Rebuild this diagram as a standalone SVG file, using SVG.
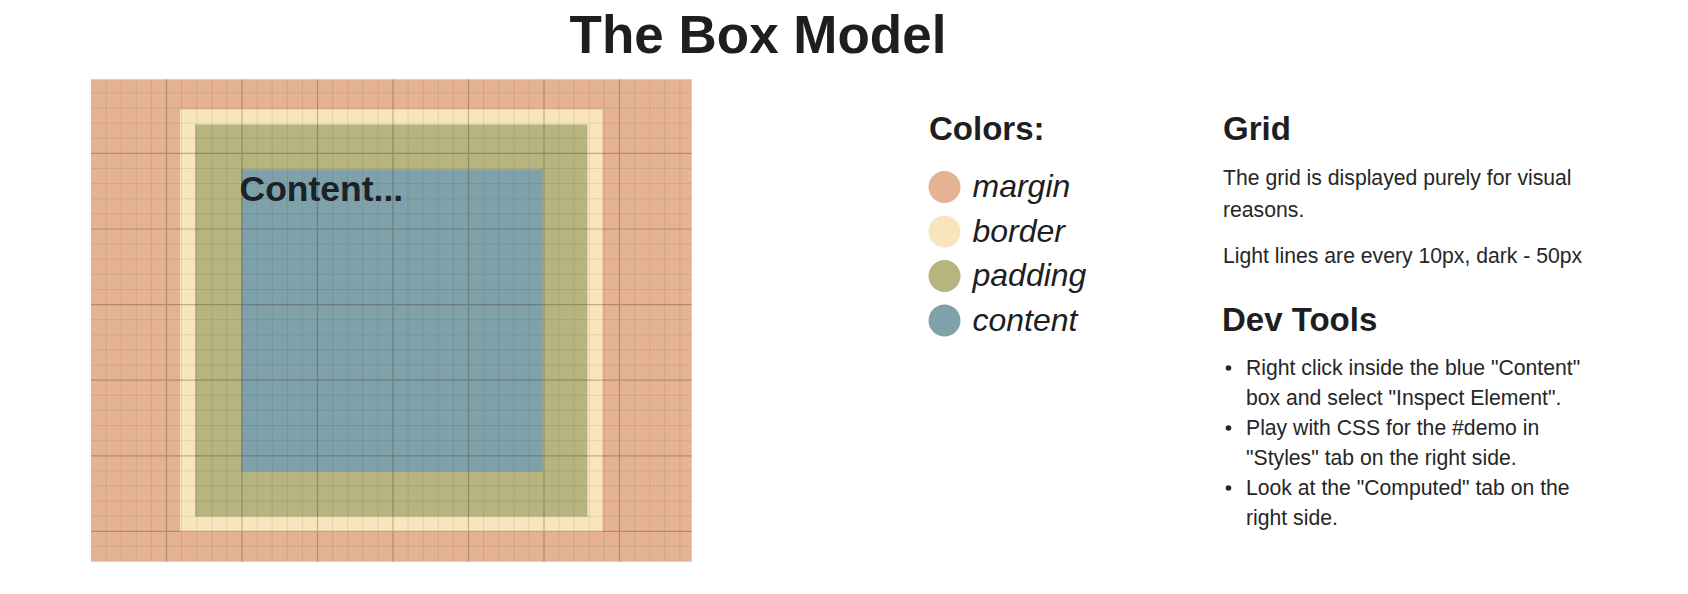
<svg xmlns="http://www.w3.org/2000/svg" width="1688" height="594" viewBox="0 0 1688 594">
  <style>
    text { font-family: "Liberation Sans", Arial, Helvetica, sans-serif; fill: #1e1e1e; }
    .title { font-size: 53px; font-weight: bold; }
    .h2 { font-size: 33px; font-weight: bold; }
    .leg { font-size: 32px; font-style: italic; }
    .body { font-size: 21.2px; fill: #262626; }
    .content-label { font-size: 35.5px; font-weight: bold; fill: #1c2228; }
    .grid-light { stroke: #000; stroke-opacity: 0.08; stroke-width: 1; fill: none; }
    .grid-dark { stroke: #3a2010; stroke-opacity: 0.28; stroke-width: 1.2; fill: none; }
    .c-margin { fill: #e5b394; }
    .c-border { fill: #f8e4bd; }
    .c-padding { fill: #b6b580; }
    .c-content { fill: #7fa2aa; }
    .bullet { fill: #262626; }
  </style>
  <rect width="1688" height="594" fill="#ffffff"/>

  <g id="title">
    <text class="title" x="758" y="53" text-anchor="middle">The Box Model</text>
  </g>

  <g id="box-model">
    <g id="margin"><rect class="c-margin" x="91" y="79.3" width="600.7" height="482.4"/></g>
    <g id="border"><rect class="c-border" x="180" y="109.3" width="422.5" height="422.4"/></g>
    <g id="padding"><rect class="c-padding" x="195" y="124.5" width="392.3" height="392.2"/></g>
    <g id="content"><rect class="c-content" x="241" y="169.5" width="301.5" height="302.2"/>
      <text class="content-label" x="239.5" y="201">Content...</text>
    </g>
    <g id="grid-lines">
      <path class="grid-light" d="M106.1 79.3V561.7M121.2 79.3V561.7M136.3 79.3V561.7M151.4 79.3V561.7M181.6 79.3V561.7M196.7 79.3V561.7M211.8 79.3V561.7M226.9 79.3V561.7M257.1 79.3V561.7M272.2 79.3V561.7M287.3 79.3V561.7M302.4 79.3V561.7M332.6 79.3V561.7M347.7 79.3V561.7M362.8 79.3V561.7M377.9 79.3V561.7M408.1 79.3V561.7M423.2 79.3V561.7M438.3 79.3V561.7M453.4 79.3V561.7M483.6 79.3V561.7M498.7 79.3V561.7M513.8 79.3V561.7M528.9 79.3V561.7M559.1 79.3V561.7M574.2 79.3V561.7M589.3 79.3V561.7M604.4 79.3V561.7M634.6 79.3V561.7M649.7 79.3V561.7M664.8 79.3V561.7M679.9 79.3V561.7
      M91 92.9H691.7M91 108H691.7M91 123.2H691.7M91 138.3H691.7M91 168.5H691.7M91 183.6H691.7M91 198.8H691.7M91 213.9H691.7M91 244.1H691.7M91 259.2H691.7M91 274.4H691.7M91 289.5H691.7M91 319.7H691.7M91 334.8H691.7M91 350H691.7M91 365.1H691.7M91 395.3H691.7M91 410.4H691.7M91 425.6H691.7M91 440.7H691.7M91 470.9H691.7M91 486H691.7M91 501.2H691.7M91 516.3H691.7M91 546.5H691.7"/>
      <path class="grid-dark" d="M166.5 79.3V561.7M242 79.3V561.7M317.5 79.3V561.7M393 79.3V561.7M468.5 79.3V561.7M544 79.3V561.7M619.5 79.3V561.7
      M91 153.4H691.7M91 229H691.7M91 304.6H691.7M91 380.2H691.7M91 455.8H691.7M91 531.4H691.7"/>
    </g>
  </g>

  <g id="legend">
    <text class="h2" x="929" y="140">Colors:</text>
    <g id="legend-margin"><circle class="c-margin" cx="944.5" cy="187" r="16"/><text class="leg" x="972.5" y="197">margin</text></g>
    <g id="legend-border"><circle class="c-border" cx="944.5" cy="231.5" r="16"/><text class="leg" x="972.5" y="241.5">border</text></g>
    <g id="legend-padding"><circle class="c-padding" cx="944.5" cy="276" r="16"/><text class="leg" x="972.5" y="286">padding</text></g>
    <g id="legend-content"><circle class="c-content" cx="944.5" cy="320.5" r="16"/><text class="leg" x="972.5" y="330.5">content</text></g>
  </g>

  <g id="grid-info">
    <text class="h2" x="1223" y="140">Grid</text>
    <text class="body" x="1223" y="185">The grid is displayed purely for visual</text>
    <text class="body" x="1223" y="216.5">reasons.</text>
    <text class="body" x="1223" y="263">Light lines are every 10px, dark - 50px</text>
  </g>

  <g id="dev-tools">
    <text class="h2" x="1222" y="331">Dev Tools</text>
    <circle class="bullet" cx="1228.5" cy="368" r="2.8"/>
    <circle class="bullet" cx="1228.5" cy="428" r="2.8"/>
    <circle class="bullet" cx="1228.5" cy="488" r="2.8"/>
    <text class="body" x="1246" y="375">Right click inside the blue "Content"</text>
    <text class="body" x="1246" y="405">box and select "Inspect Element".</text>
    <text class="body" x="1246" y="435">Play with CSS for the #demo in</text>
    <text class="body" x="1246" y="465">"Styles" tab on the right side.</text>
    <text class="body" x="1246" y="495">Look at the "Computed" tab on the</text>
    <text class="body" x="1246" y="525">right side.</text>
  </g>
</svg>
